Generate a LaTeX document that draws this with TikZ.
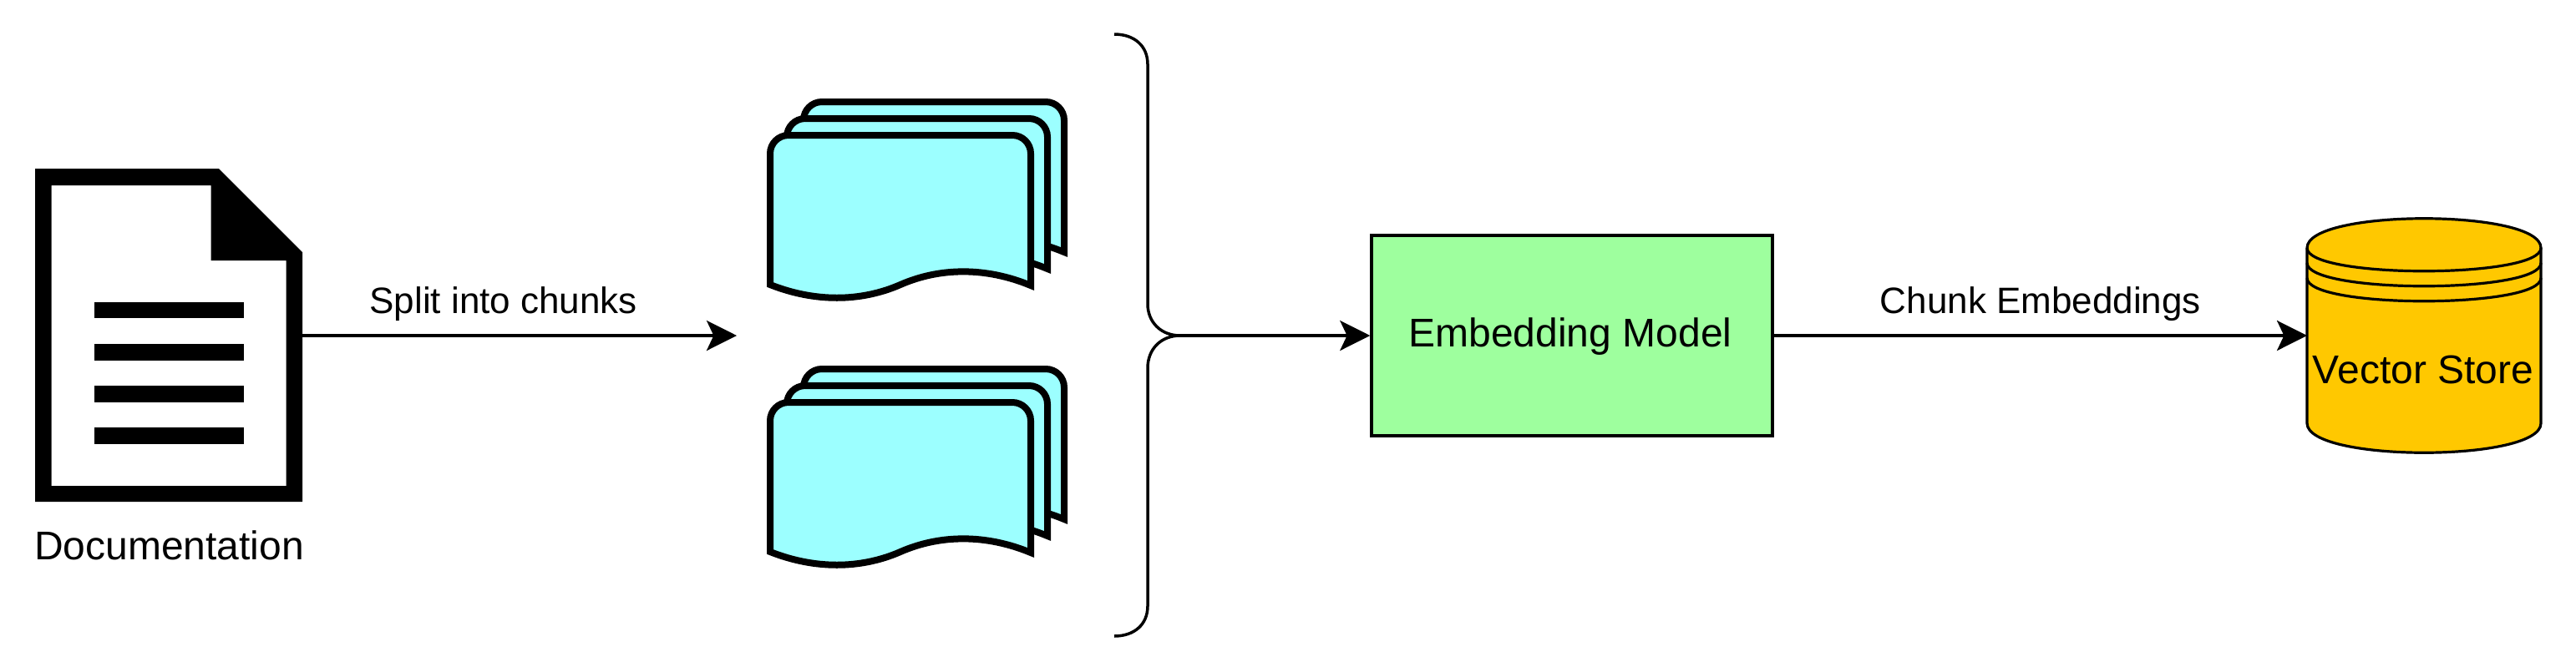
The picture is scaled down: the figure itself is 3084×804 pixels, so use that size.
\documentclass[tikz,border=0pt]{standalone}
\usepackage{fontspec}
\setmainfont{Liberation Sans}
\usetikzlibrary{arrows.meta}

\definecolor{chunkcyan}{HTML}{9CFFFF}
\definecolor{modelgreen}{HTML}{9EFF9E}
\definecolor{storeyellow}{HTML}{FFC800}

\tikzset{
	flow/.style={line width=.875pt, -{Stealth[length=9pt, width=9pt, inset=2.1pt]}},
	edgetext/.style={font=\fontsize{11pt}{13pt}\selectfont, anchor=base, yshift=6.75pt},
	bigtext/.style={font=\fontsize{12pt}{14pt}\selectfont, anchor=base, inner sep=0pt},
	page/.style={line width=2pt, fill=chunkcyan, miter limit=10},
	storeline/.style={line width=.8pt}
}

% one sheet of a chunk stack, #1 and #2 shift it
\newcommand{\chunkpage}[2]{
	\draw [page, shift={(#1, #2)}]
	(922, 341) [rounded corners=5.5pt] -- (922, 162) -- (1234, 162) [sharp corners] -- (1234, 342)
	.. controls (1181, 320) and (1126, 320) .. (1078, 341)
	.. controls (1030, 362) and (975, 362) .. (922, 341) -- cycle;
}

\begin{document}
\begin{tikzpicture}[x=.25pt, y=-.25pt]
	\useasboundingbox (0, 0) rectangle (3084, 804);
	
	\coordinate (splitEnd) at (882, 402);
	\coordinate (braceTip) at (1413, 402);
	
	% document icon
	\node [minimum width=80pt, minimum height=99.75pt, inner sep=0pt, outer sep=0pt] (doc) at (202, 402) {};
	\fill [even odd rule]
	(42, 202) -- (262, 202) -- (362, 302) -- (362, 601) -- (42, 601) -- cycle
	(61.5, 222) -- (252.5, 222) -- (252.5, 312) -- (342.5, 312) -- (342.5, 582) -- (61.5, 582) -- cycle;
	\fill (112.5, 362) rectangle (292, 381);
	\fill (112.5, 412) rectangle (292, 432);
	\fill (112.5, 462) rectangle (292, 482);
	\fill (112.5, 512) rectangle (292, 532);
	\node [bigtext] (docLabel) at (202.5, 670) {Documentation};
	
	% upper stack
	\chunkpage{40}{-40}
	\chunkpage{20}{-20}
	\chunkpage{0}{0}
	% lower stack
	\chunkpage{40}{280}
	\chunkpage{20}{300}
	\chunkpage{0}{320}
	
	% brace
	\draw [line width=.875pt]
	(1334, 41) .. controls (1358, 41) and (1374, 55) .. (1374, 77) -- (1374, 364)
	.. controls (1374, 386) and (1390, 402) .. (braceTip)
	.. controls (1390, 402) and (1374, 418) .. (1374, 441) -- (1374, 726)
	.. controls (1374, 748) and (1358, 762) .. (1334, 762);
	
	\node [draw, line width=.875pt, fill=modelgreen, minimum width=120pt, minimum height=60pt, inner sep=0pt] (embed) at (1882, 402) {};
	\node [bigtext] (embedLabel) at (1880, 415) {Embedding Model};
	
	% store
	\node [minimum width=70pt, minimum height=70pt, inner sep=0pt, outer sep=0pt] (store) at (2902, 402) {};
	\draw [storeline, fill=storeyellow]
	(2762, 297) .. controls (2762, 250) and (3042, 250) .. (3042, 297) -- (3042, 507)
	.. controls (3042, 554) and (2762, 554) .. (2762, 507) -- cycle;
	\draw [storeline] (2762, 297) .. controls (2762, 334) and (3042, 334) .. (3042, 297);
	\draw [storeline] (2762, 315) .. controls (2762, 352) and (3042, 352) .. (3042, 315);
	\draw [storeline] (2762, 333) .. controls (2762, 370) and (3042, 370) .. (3042, 333);
	\node [bigtext] (storeLabel) at (2901, 459) {Vector Store};
	
	\draw [flow] (doc.east) -- node [edgetext, pos=.463] (splitLabel) {Split into chunks} (splitEnd);
	\draw [flow] (braceTip) -- (embed.west);
	\draw [flow] (embed.east) -- node [edgetext] (embeddingsLabel) {Chunk Embeddings} (store.west);
\end{tikzpicture}
\end{document}
